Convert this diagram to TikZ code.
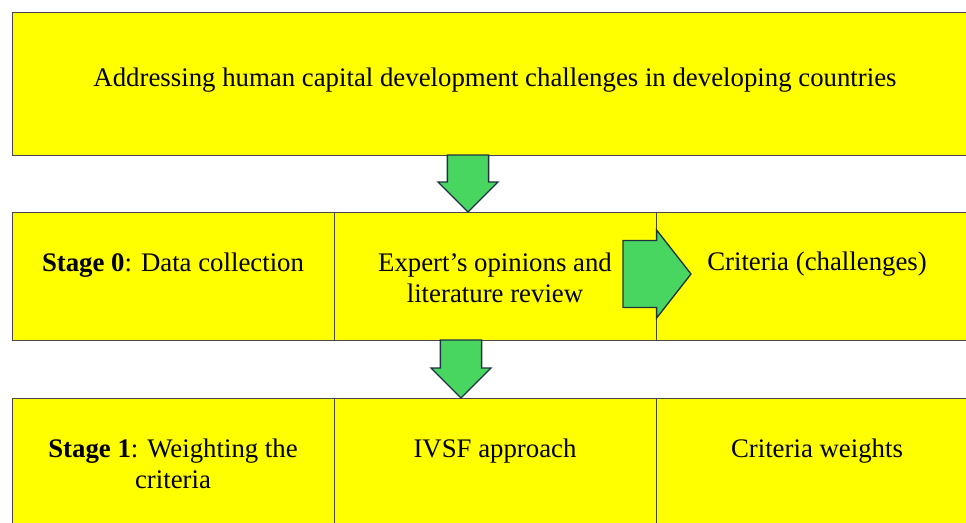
\documentclass[tikz,border=0pt]{standalone}
\usepackage{fontspec}
\setmainfont{Liberation Serif}
\usetikzlibrary{positioning,shapes.arrows}

\definecolor{cellyellow}{RGB}{255,255,0}
\definecolor{arrowgreen}{RGB}{72,214,96}
\definecolor{arrowline}{RGB}{30,50,68}

\tikzset{
  cell/.style={draw=black!72, line width=.9pt, fill=cellyellow, anchor=north west,
    minimum width=322pt, minimum height=128pt, inner sep=0pt, outer sep=0pt},
  celltext/.style={anchor=base, align=center, inner sep=0pt,
    font=\fontsize{26.8}{30.5}\selectfont},
  blockarrow/.style={single arrow, fill=arrowgreen, draw=arrowline, line width=1.3pt,
    single arrow head indent=0pt, outer sep=0pt}
}

\begin{document}
\begin{tikzpicture}[x=1pt,y=-1pt]
\clip (0,0) rectangle (966,522);
\fill[white] (0,0) rectangle (966,522);

% top box
\node[cell, minimum width=966pt, minimum height=143pt] (goal) at (12,12) {};
\node[celltext] (goaltxt) at (495,86) {Addressing human capital development challenges in developing countries};

% stage 0 row
\node[cell] (s0a) at (12,212) {};
\node[cell] (s0b) at (334,212) {};
\node[cell] (s0c) at (656,212) {};
\node[celltext] (s0atxt) at (173,271) {\textbf{Stage 0}: Data collection};
% base sits on the last line here
\node[celltext] (s0btxt) at (495,302) {Expert’s opinions and\\literature review};
\node[celltext] (s0ctxt) at (817,270) {Criteria (challenges)};

% stage 1 row
\node[cell] (s1a) at (12,398) {};
\node[cell] (s1b) at (334,398) {};
\node[cell] (s1c) at (656,398) {};
\node[celltext] (s1atxt) at (173,488) {\textbf{Stage 1}: Weighting the\\criteria};
\node[celltext] (s1btxt) at (495,457) {IVSF approach};
\node[celltext] (s1ctxt) at (817,457) {Criteria weights};

% block arrows
\node[blockarrow, rotate=-90, anchor=tail, minimum height=57pt, minimum width=60pt,
  inner xsep=0pt, inner ysep=15pt] (down1) at (468,155) {};
\node[blockarrow, anchor=tail, minimum height=68pt, minimum width=88pt,
  single arrow tip angle=104, inner xsep=0pt, inner ysep=22pt] (right1) at (623,274) {};
\node[blockarrow, rotate=-90, anchor=tail, minimum height=58pt, minimum width=60pt,
  inner xsep=0pt, inner ysep=15pt] (down2) at (461,340) {};
\end{tikzpicture}
\end{document}
